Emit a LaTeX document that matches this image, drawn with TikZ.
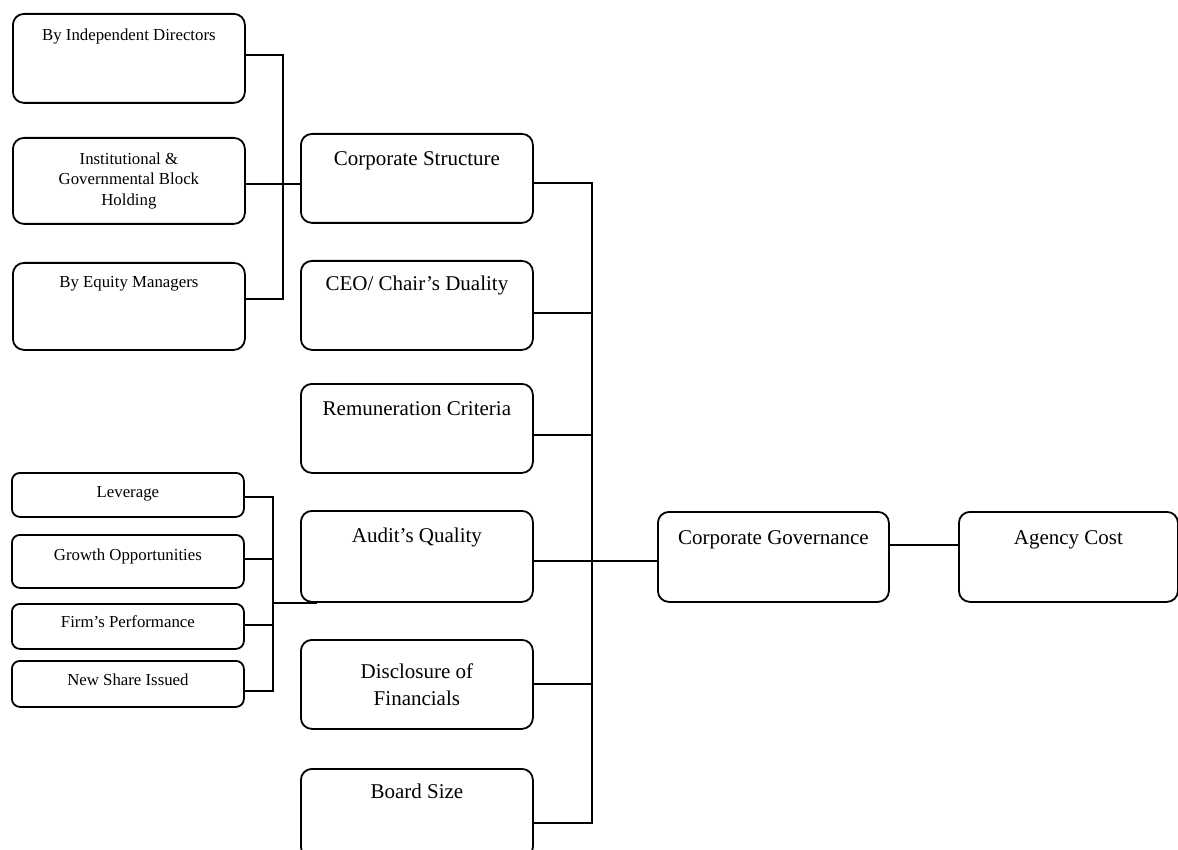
\documentclass[tikz,border=0pt]{standalone}
\usepackage{fontspec}
\setmainfont{Liberation Serif}
\usetikzlibrary{positioning,calc}

\tikzset{
  box/.style={draw, rounded corners=11pt, line width=1.8pt, inner sep=0pt,
    anchor=north west, minimum width=232pt, align=center},
  smallbox/.style={box, rounded corners=8pt},
  bigtxt/.style={font=\fontsize{21}{27}\selectfont},
  smalltxt/.style={font=\fontsize{16.8}{20.5}\selectfont},
  wire/.style={line width=1.6pt},
}

\begin{document}
\begin{tikzpicture}[x=1pt, y=-1pt]
    \clip (0,0) rectangle (1178,850);

    % ownership boxes
    \node[box, smalltxt, text height=27pt, text depth=62pt] (indep) at (12,13) {By Independent Directors};
    \node[box, smalltxt, minimum height=86pt] (inst) at (12,137) {Institutional \&\\Governmental Block\\Holding};
    \node[box, smalltxt, text height=25pt, text depth=62pt] (equity) at (12,262) {By Equity Managers};

    % control variables
    \node[smallbox, smalltxt, text height=25pt, text depth=19pt] (lever) at (11,472) {Leverage};
    \node[smallbox, smalltxt, text height=26pt, text depth=27pt] (growth) at (11,534) {Growth Opportunities};
    \node[smallbox, smalltxt, text height=24pt, text depth=21pt] (firm) at (11,603) {Firm’s Performance};
    \node[smallbox, smalltxt, text height=25pt, text depth=21pt] (newshare) at (11,660) {New Share Issued};

    % governance mechanisms
    \node[box, bigtxt, text height=32pt, text depth=57pt] (cstruct) at (300,133) {Corporate Structure};
    \node[box, bigtxt, text height=30pt, text depth=59pt] (ceo) at (300,260) {CEO/ Chair’s Duality};
    \node[box, bigtxt, text height=32pt, text depth=57pt] (remun) at (300,383) {Remuneration Criteria};
    \node[box, bigtxt, text height=32pt, text depth=59pt] (audit) at (300,510) {Audit’s Quality};
    \node[box, bigtxt, minimum height=89pt] (disc) at (300,639) {Disclosure of\\Financials};
    \node[box, bigtxt, text height=30pt, text depth=59pt] (board) at (300,768) {Board Size};

    \node[box, bigtxt, minimum width=231pt, text height=33pt, text depth=57pt] (cg) at (657,511) {Corporate Governance};
    \node[box, bigtxt, minimum width=219pt, text height=33pt, text depth=57pt] (agency) at (958,511) {Agency Cost};

    % buses
    \coordinate (ownbus) at (283,183);
    \coordinate (ctrlbus) at (273,603);
    \coordinate (mainbus) at (592,560);

    \draw[wire] ([yshift=3.5pt]indep.east) -| (ownbus) |- ([yshift=7.5pt]equity.east);
    \draw[wire] ([yshift=-3pt]inst.east) -- ([yshift=-5.5pt]cstruct.west);

    \draw[wire] ([yshift=-2pt]lever.east) -| ([yshift=-7pt]newshare.east -| ctrlbus) -- ([yshift=-7pt]newshare.east);
    \foreach \n/\s in {growth/2.5, firm/1.5}
        \draw[wire] ([yshift=\s pt]\n.east) -- ([yshift=\s pt]\n.east -| ctrlbus);
    \draw[wire] (ctrlbus) -- ([xshift=17pt]ctrlbus -| audit.west);

    \draw[wire] ([yshift=-4.5pt]cstruct.east) -| ([yshift=-9.5pt]board.east -| mainbus) -- ([yshift=-9.5pt]board.east);
    \foreach \n/\s in {ceo/-7.5, remun/-6.5, disc/0.5}
        \draw[wire] ([yshift=\s pt]\n.east) -- ([yshift=\s pt]\n.east -| mainbus);
    \draw[wire] ([yshift=-4.5pt]audit.east) -- ([yshift=-4pt]cg.west);
    \draw[wire] ([yshift=12pt]cg.east) -- ([yshift=12pt]agency.west);
\end{tikzpicture}
\end{document}
